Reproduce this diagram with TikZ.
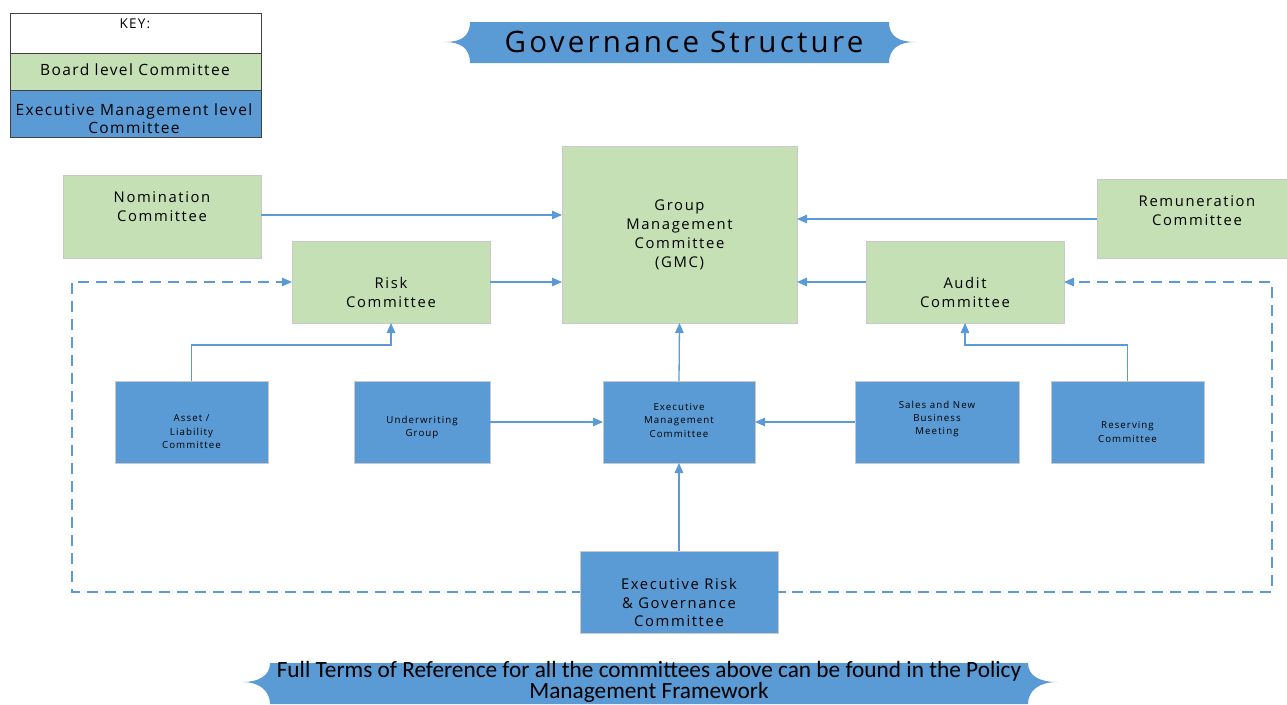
\documentclass[tikz,border=0pt]{standalone}
\usepackage{fontspec}
\setmainfont{Open Sans}[LetterSpace=11]
\newfontfamily\keyfont{Open Sans}[LetterSpace=9]
\newfontfamily\footfont{Carlito}
\usetikzlibrary{arrows.meta}
\definecolor{boardgreen}{HTML}{C5E0B4}
\definecolor{execblue}{HTML}{5B9BD5}
\definecolor{edgegray}{HTML}{C9C9C9}
\definecolor{keyline}{HTML}{404040}
\tikzset{
  board/.style={draw=edgegray, fill=boardgreen, line width=0.8pt, inner sep=0pt, outer sep=0pt},
  exec/.style={draw=edgegray, fill=execblue, line width=0.8pt, inner sep=0pt, outer sep=0pt},
  keybox/.style={draw=keyline, line width=0.9pt, inner sep=0pt, outer sep=0pt},
  keytxt/.style={inner sep=0pt, align=center, font=\keyfont\fontsize{15.5}{18}\selectfont},
  bigtxt/.style={align=center, inner sep=0pt, font=\fontsize{14.8}{19}\selectfont},
  smalltxt/.style={align=center, inner sep=0pt, font=\fontsize{9.7}{13.5}\selectfont},
  link/.style={draw=execblue, line width=1.3pt, -{Triangle[length=10pt,width=8.5pt]}},
  dashlink/.style={link, dash pattern=on 11pt off 7pt},
  plain/.style={draw=execblue, line width=1.3pt},
}
\begin{document}
\begin{tikzpicture}[x=1pt, y=-1pt]
\useasboundingbox (0,0) rectangle (1287,704);

% key
\node[keybox, fill=white, minimum width=251pt, minimum height=40pt] (keyhead) at (135.5,33) {};
\node[keybox, fill=boardgreen, minimum width=251pt, minimum height=37pt] (keyboard) at (135.5,71.5) {};
\node[keybox, fill=execblue, minimum width=251pt, minimum height=47pt] (keyexec) at (135.5,113.5) {};
\node[keytxt, font=\keyfont\fontsize{13.5}{16}\selectfont] (keyheadT) at (135,24) {KEY:};
\node[keytxt] (keyboardT) at (135,70) {Board level Committee};
\node[keytxt] (keyexecT) at (134,119) {Executive Management level\\Committee};

% title banner
\fill[execblue] (470,22) -- (889,22)
  .. controls (889,37) and (900,42) .. (915,42)
  .. controls (900,42) and (889,48) .. (889,63)
  -- (470,63)
  .. controls (470,48) and (460,42) .. (445,42)
  .. controls (460,42) and (470,37) .. (470,22) -- cycle;
\node[inner sep=0pt, font=\fontsize{29.5}{34}\selectfont] (title) at (684,42) {Governance Structure};

% board level committees
\node[board, minimum width=198pt, minimum height=83pt] (nom) at (162,216.5) {};
\node[board, minimum width=235pt, minimum height=177pt] (gmc) at (679.5,234.5) {};
\node[board, minimum width=192pt, minimum height=79pt] (rem) at (1193,218.5) {};
\node[board, minimum width=198pt, minimum height=82pt] (risk) at (391,282) {};
\node[board, minimum width=198pt, minimum height=82pt] (audit) at (965,282) {};

% executive management committees
\node[exec, minimum width=153pt, minimum height=82pt] (asset) at (191.5,422) {};
\node[exec, minimum width=136pt, minimum height=82pt] (uw) at (422,422) {};
\node[exec, minimum width=152pt, minimum height=82pt] (emc) at (679,422) {};
\node[exec, minimum width=164pt, minimum height=82pt] (sales) at (937,422) {};
\node[exec, minimum width=153pt, minimum height=82pt] (res) at (1127.5,422) {};
\node[exec, minimum width=198pt, minimum height=82pt] (ergc) at (679,592) {};

% labels
\node[bigtxt] (nomT) at (162,206.5) {Nomination\\Committee};
\node[bigtxt] (gmcT) at (679.5,235) {Group\\Management\\Committee\\(GMC)};
\node[bigtxt] (remT) at (1197,211) {Remuneration\\Committee};
\node[bigtxt] (riskT) at (391,292) {Risk\\Committee};
\node[bigtxt] (auditT) at (965,292) {Audit\\Committee};
\node[smalltxt] (assetT) at (191.5,432) {Asset /\\Liability\\Committee};
\node[smalltxt] (uwT) at (422,427.5) {Underwriting\\Group};
\node[smalltxt] (emcT) at (679,420) {Executive\\Management\\Committee};
\node[smalltxt, font=\fontsize{9.7}{13}\selectfont] (salesT) at (937,419) {Sales and New\\Business\\Meeting};
\node[smalltxt] (resT) at (1127.5,432) {Reserving\\Committee};
\node[bigtxt, font=\fontsize{14.8}{18.5}\selectfont] (ergcT) at (679,602.5) {Executive Risk\\\& Governance\\Committee};

% reporting lines
\draw[link] (nom.east |- 0,215) -- (gmc.west |- 0,215);
\draw[link] (rem.west |- 0,219) -- (gmc.east |- 0,219);
\draw[link] (risk.east) -- (gmc.west |- risk.east);
\draw[link] (audit.west) -- (gmc.east |- audit.west);
\draw[link] (asset.north) -- (asset.north |- 0,345) -| (risk.south);
\draw[link] (res.north) -- (res.north |- 0,345) -| (audit.south);
\draw[link] (uw.east) -- (emc.west);
\draw[link] (sales.west) -- (emc.east);
\draw[link] (emc.north) -- (gmc.south);
\draw[link] (ergc.north) -- (emc.south);

% dashed reporting lines from the executive risk committee
\coordinate (dl1) at (72,592);
\coordinate (dl2) at (72,282);
\coordinate (dr1) at (1272,592);
\coordinate (dr2) at (1272,282);
\draw[plain] (ergc.west) -- ++(-8,0);
\draw[dashlink] ([xshift=-14pt]ergc.west) -- (dl1) -- (dl2) -- (risk.west);
\draw[plain] (ergc.east) -- ++(8,0);
\draw[dashlink] ([xshift=14pt]ergc.east) -- (dr1) -- (dr2) -- (audit.east);

% footer banner
\begin{scope}
\clip (0,0) rectangle (1287,704);
\fill[execblue] (270,663) -- (1028,663)
  .. controls (1028,676) and (1040,682) .. (1057,682)
  .. controls (1040,682) and (1028,690) .. (1028,704)
  -- (270,704)
  .. controls (270,690) and (258,682) .. (243,682)
  .. controls (258,682) and (270,676) .. (270,663) -- cycle;
\end{scope}
\node[inner sep=0pt, align=center, font=\footfont\fontsize{23.3}{21}\selectfont] (foot) at (649,681.5) {Full Terms of Reference for all the committees above can be found in the Policy\\Management Framework};
\end{tikzpicture}
\end{document}
